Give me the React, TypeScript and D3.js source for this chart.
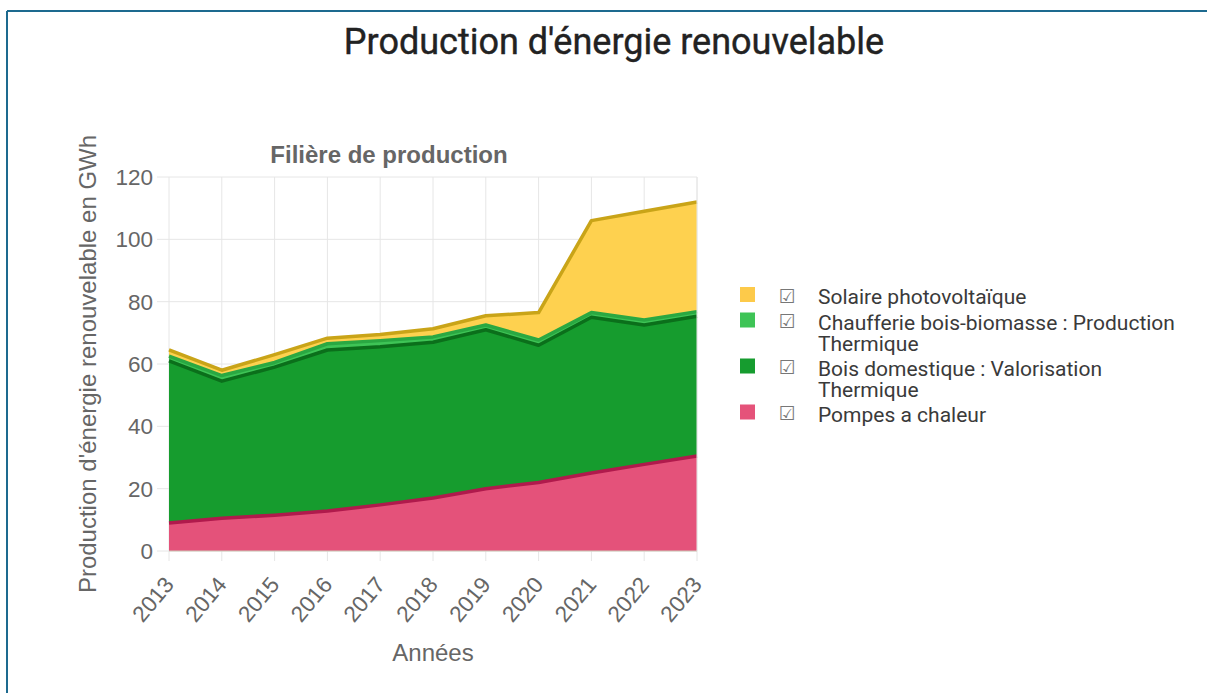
import React from "react";
import * as d3 from "d3";

const years = ["2013","2014","2015","2016","2017","2018","2019","2020","2021","2022","2023"];
const pompes = [9, 10.5, 11.5, 12.8, 14.8, 17, 20, 22, 25, 27.8, 30.5];
const boisDomestique = [52, 44, 47.5, 51.7, 50.7, 50, 51, 44, 50, 44.7, 44.8];
const chaufferie = [1.5, 1.8, 1.5, 2, 2, 1.7, 1.5, 1.7, 1.5, 1.6, 1.5];
const solaire = [2, 1.7, 2.5, 1.8, 2, 2.6, 3, 8.8, 29.5, 34.9, 35.2];
const yTicks = [0, 20, 40, 60, 80, 100, 120];

const seriesDefs = [
  { key: "pompes", label: "Pompes a chaleur", values: pompes, fill: "#e4527a", line: "#b01a4c", legend: "#e5537a" },
  { key: "bois", label: "Bois domestique : Valorisation|Thermique", values: boisDomestique, fill: "#169c2e", line: "#0b6f1b", legend: "#169c2f" },
  { key: "chauf", label: "Chaufferie bois-biomasse : Production|Thermique", values: chaufferie, fill: "#3ec456", line: "#2aa842", legend: "#3ec456" },
  { key: "solaire", label: "Solaire photovoltaïque", values: solaire, fill: "#fed14f", line: "#c9a418", legend: "#fdca4a" },
];

export default function App() {
  const W = 1207, H = 693;
  const left = 169, right = 697, top = 177, bottom = 551;
  const x = d3.scalePoint<string>().domain(years).range([left, right]);
  const y = d3.scaleLinear().domain([0, 120]).range([bottom, top]);

  const table = years.map((yr, i) => {
    const o: any = { year: yr };
    seriesDefs.forEach((s) => (o[s.key] = s.values[i]));
    return o;
  });
  const stacked = d3.stack<any>().keys(seriesDefs.map((s) => s.key))(table);
  const area = d3.area<any>().x((d) => x(d.data.year)!).y0((d) => y(d[0])).y1((d) => y(d[1]));
  const line = d3.line<any>().x((d) => x(d.data.year)!).y((d) => y(d[1]));

  const chartFont = "'Liberation Sans', Arial, Helvetica, sans-serif";
  const legendItems = [...seriesDefs].reverse();
  const legendRows = [297, 322.5, 368.5, 414.5];

  return (
    <svg width={W} height={H} style={{ position: "absolute", left: 0, top: 0, background: "#fff" }}>
      <rect x={0} y={0} width={W} height={H} fill="#fff" />
      <line x1={7} y1={11} x2={W} y2={11} stroke="#1d6a8f" strokeWidth={2} />
      <line x1={7} y1={11} x2={7} y2={H} stroke="#1d6a8f" strokeWidth={2} />

      <text x={614} y={54} textAnchor="middle" fontFamily="Roboto, sans-serif" fontSize={36} fill="#222" stroke="#222" strokeWidth={0.4}>
        Production d'énergie renouvelable
      </text>
      <text x={389} y={163} textAnchor="middle" fontFamily={chartFont} fontWeight="bold" fontSize={24} fill="#666">
        Filière de production
      </text>

      {/* grid */}
      {yTicks.map((t) => (
        <line key={"h" + t} x1={157} x2={right} y1={y(t)} y2={y(t)} stroke="#e6e6e6" strokeWidth={1} />
      ))}
      {years.map((yr) => (
        <line key={"v" + yr} x1={x(yr)} x2={x(yr)} y1={top} y2={561} stroke="#e6e6e6" strokeWidth={1} />
      ))}

      {/* areas */}
      {stacked.map((s, i) => (
        <path key={"a" + i} d={area(s as any)!} fill={seriesDefs[i].fill} />
      ))}
      {stacked.map((s, i) => (
        <path key={"l" + i} d={line(s as any)!} fill="none" stroke={seriesDefs[i].line} strokeWidth={3.5} strokeLinejoin="round" />
      ))}
      <line x1={left} x2={right} y1={bottom} y2={bottom} stroke="#cfc8b8" strokeWidth={1} />
      <line x1={right} x2={right} y1={top} y2={bottom} stroke="#e6e6e6" strokeWidth={1} />

      {/* y ticks */}
      {yTicks.map((t) => (
        <text key={"yt" + t} x={153} y={y(t)} dy="0.36em" textAnchor="end" fontFamily={chartFont} fontSize={22.5} fill="#666">
          {t}
        </text>
      ))}
      {/* x ticks */}
      {years.map((yr) => (
        <text
          key={"xt" + yr}
          transform={`translate(${x(yr)!},${580}) rotate(-50)`}
          textAnchor="end"
          dy="0.35em"
          fontFamily={chartFont}
          fontSize={22.5}
          fill="#666"
        >
          {yr}
        </text>
      ))}
      <text transform={`translate(96,${(top + bottom) / 2}) rotate(-90)`} textAnchor="middle" fontFamily={chartFont} fontSize={24} fill="#666">
        Production d'énergie renouvelable en GWh
      </text>
      <text x={(left + right) / 2} y={661} textAnchor="middle" fontFamily={chartFont} fontSize={24} fill="#666">
        Années
      </text>

      {/* legend */}
      {legendItems.map((s, i) => {
        const yy = legendRows[i];
        const parts = s.label.split("|");
        return (
          <g key={"lg" + s.key}>
            <rect x={740} y={yy - 10} width={15} height={15} fill={s.legend} />
            <text x={787} y={yy - 1} dy="0.35em" textAnchor="middle" fontFamily="'DejaVu Sans', sans-serif" fontSize={19} fill="#777">
              ☑
            </text>
            <text x={818} y={yy + 7} fontFamily="Roboto, sans-serif" fontSize={21} fill="#3a3a3a">
              {parts.map((p, j) => (
                <tspan key={j} x={818} dy={j === 0 ? 0 : 21.5}>
                  {p}
                </tspan>
              ))}
            </text>
          </g>
        );
      })}
    </svg>
  );
}
